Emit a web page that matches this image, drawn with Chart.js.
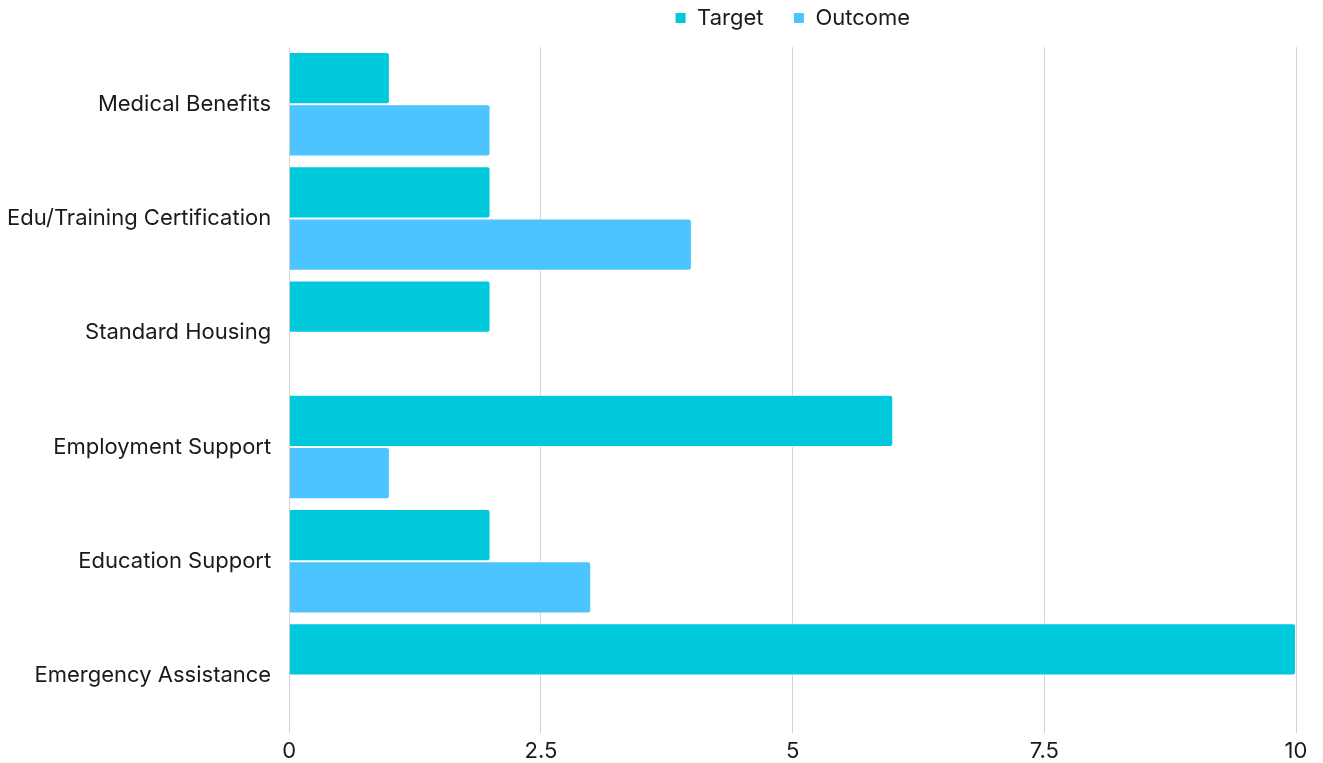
<!DOCTYPE html>
<html>
<head>
<meta charset="utf-8">
<script src="https://cdn.jsdelivr.net/npm/chart.js@4"></script>
<style>
  html, body { margin: 0; padding: 0; background: #fff; }
  #wrap { width: 1323px; height: 763px; }
</style>
</head>
<body>
<div id="wrap"><canvas id="chart"></canvas></div>
<script>
var categories = ['Medical Benefits', 'Edu/Training Certification', 'Standard Housing', 'Employment Support', 'Education Support', 'Emergency Assistance']
var targetValues = [1, 2, 2, 6, 2, 10]
var outcomeValues = [2, 4, 0, 1, 3, 0]
var xTicks = [0, 2.5, 5, 7.5, 10]

Chart.defaults.font.family = 'Inter, "Noto Sans", sans-serif'
Chart.defaults.font.size = 22
Chart.defaults.color = '#1a1a1a'

const chart = document.getElementById('chart')

const config = {
    type: 'bar',
    data: {
        labels: categories,
        datasets: [{
            label: 'Target',
            data: targetValues,
            backgroundColor: '#00C9DB',
            borderColor: '#ffffff',
            borderWidth: 1,
            borderRadius: 3,
            borderSkipped: 'start'
        }, {
            label: 'Outcome',
            data: outcomeValues,
            backgroundColor: '#4BC4FF',
            borderColor: '#ffffff',
            borderWidth: 1,
            borderRadius: 3,
            borderSkipped: 'start'
        }]
    },
    options: {
        indexAxis: 'y',
        responsive: true,
        maintainAspectRatio: false,
        animation: false,
        layout: {
            padding: { left: -3, right: 27, top: -23, bottom: -8 }
        },
        plugins: {
            legend: {
                position: 'top',
                weight: 3000,
                fullSize: false,
                labels: {
                    boxWidth: 11,
                    boxHeight: 11,
                    padding: 30,
                    font: { size: 22 }
                }
            },
            // empty spacer between legend and plot
            subtitle: {
                display: true,
                text: '',
                font: { size: 1 },
                padding: { top: 0, bottom: 7 }
            },
            tooltip: { enabled: false }
        },
        datasets: {
            bar: {
                categoryPercentage: 0.915,
                barPercentage: 1
            }
        },
        scales: {
            x: {
                min: 0,
                max: 10,
                afterBuildTicks: function (axis) {
                    axis.ticks = xTicks.map(v => ({ value: v }))
                },
                grid: {
                    color: '#d4d4d4',
                    drawTicks: false
                },
                border: { display: false },
                ticks: {
                    padding: 6,
                    font: { size: 22 }
                }
            },
            y: {
                grid: { display: false },
                border: { display: false },
                ticks: {
                    padding: 10,
                    font: { size: 22 }
                }
            }
        }
    }
}

var chartvar = new Chart(chart, config)
</script>
</body>
</html>
